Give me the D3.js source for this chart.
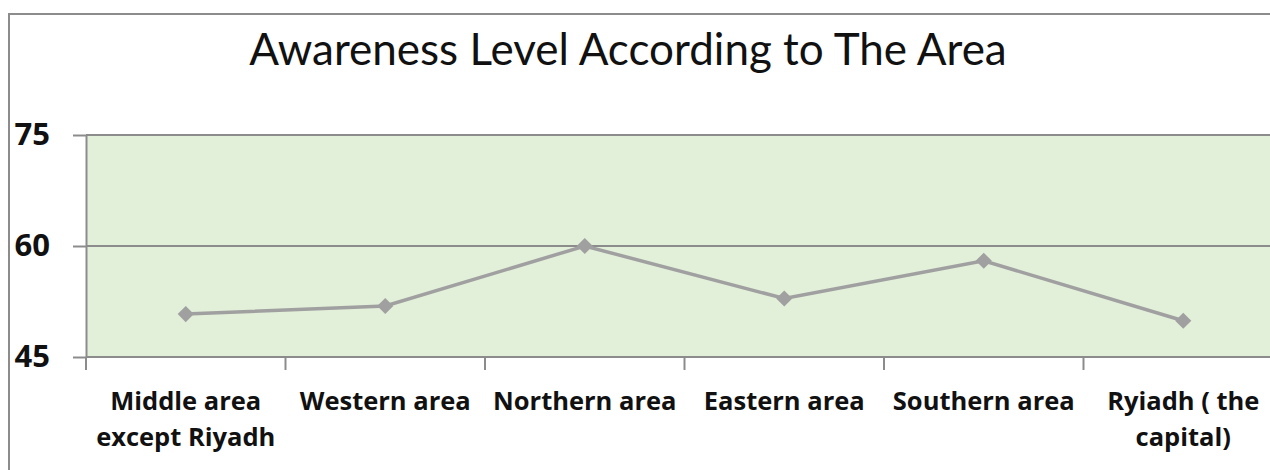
<!DOCTYPE html>
<html><head><meta charset="utf-8">
<script src="https://cdn.jsdelivr.net/npm/d3@7"></script>
<style>body{margin:0;background:#fff}svg{display:block}</style>
</head><body>
<script>
const categories = [["Middle area","except Riyadh"],["Western area"],["Northern area"],["Eastern area"],["Southern area"],["Ryiadh ( the","capital)"]];
const values = [50.8, 51.9, 60, 52.9, 58, 49.9];
const yTicks = [45, 60, 75];
const title = "Awareness Level According to The Area";

const W = 1270, H = 470;
const m = {left: 86, top: 135, right: 1283, bottom: 357};
const svg = d3.select("body").append("svg").attr("width", W).attr("height", H);
const font = "Lato, 'Open Sans', sans-serif";
const bfont = "'Open Sans', Lato, sans-serif";

svg.append("rect").attr("x", 9).attr("y", 14).attr("width", 1300).attr("height", 500)
  .attr("fill", "#fff").attr("stroke", "#8c8c8c").attr("stroke-width", 2);

svg.append("text").attr("x", 628).attr("y", 65).attr("text-anchor", "middle")
  .attr("font-family", font).attr("font-size", 44).attr("fill", "#111").text(title);

const x = d3.scaleBand().domain(d3.range(categories.length)).range([m.left, m.right]);
const y = d3.scaleLinear().domain([45, 75]).range([m.bottom, m.top]);

svg.append("rect").attr("x", m.left).attr("y", m.top).attr("width", m.right - m.left)
  .attr("height", m.bottom - m.top).attr("fill", "#e2efd9");

const gy = svg.append("g").attr("transform", `translate(${m.left},0)`)
  .call(d3.axisLeft(y).tickValues(yTicks).tickSize(13).tickSizeOuter(0).tickPadding(23));
gy.selectAll("line").attr("stroke", "#8c8c8c").attr("stroke-width", 2);
gy.select(".domain").attr("stroke", "#8c8c8c").attr("stroke-width", 2);
gy.selectAll("text").attr("font-family", bfont).attr("font-weight", "bold").attr("font-size", 31).attr("fill", "#111");

svg.append("g").selectAll("line").data(yTicks).join("line")
  .attr("x1", m.left).attr("x2", m.right).attr("y1", d => y(d)).attr("y2", d => y(d))
  .attr("stroke", "#8c8c8c").attr("stroke-width", 2);

const gx = svg.append("g").attr("transform", `translate(0,${m.bottom})`)
  .call(d3.axisBottom(x).tickSize(0).tickFormat(""));
gx.select(".domain").remove();
svg.append("g").selectAll("line").data(d3.range(categories.length + 1)).join("line")
  .attr("x1", d => m.left + d * x.step()).attr("x2", d => m.left + d * x.step())
  .attr("y1", m.bottom).attr("y2", m.bottom + 13).attr("stroke", "#8c8c8c").attr("stroke-width", 2);

const labels = svg.append("g").selectAll("text").data(categories).join("text")
  .attr("text-anchor", "middle").attr("font-family", bfont).attr("font-weight", "bold")
  .attr("font-size", 25.5).attr("fill", "#111");
labels.each(function(d, i) {
  const t = d3.select(this);
  d.forEach((line, j) => t.append("tspan").attr("x", x(i) + x.bandwidth() / 2).attr("y", 410 + j * 36).text(line));
});

const line = d3.line().x((d, i) => x(i) + x.bandwidth() / 2).y(d => y(d));
svg.append("path").datum(values).attr("d", line).attr("fill", "none")
  .attr("stroke", "#a0a0a0").attr("stroke-width", 3.5);
svg.append("g").selectAll("path").data(values).join("path")
  .attr("d", d3.symbol(d3.symbolSquare, 130))
  .attr("transform", (d, i) => `translate(${x(i) + x.bandwidth() / 2},${y(d)}) rotate(45)`)
  .attr("fill", "#a0a0a0");
</script>
</body></html>
